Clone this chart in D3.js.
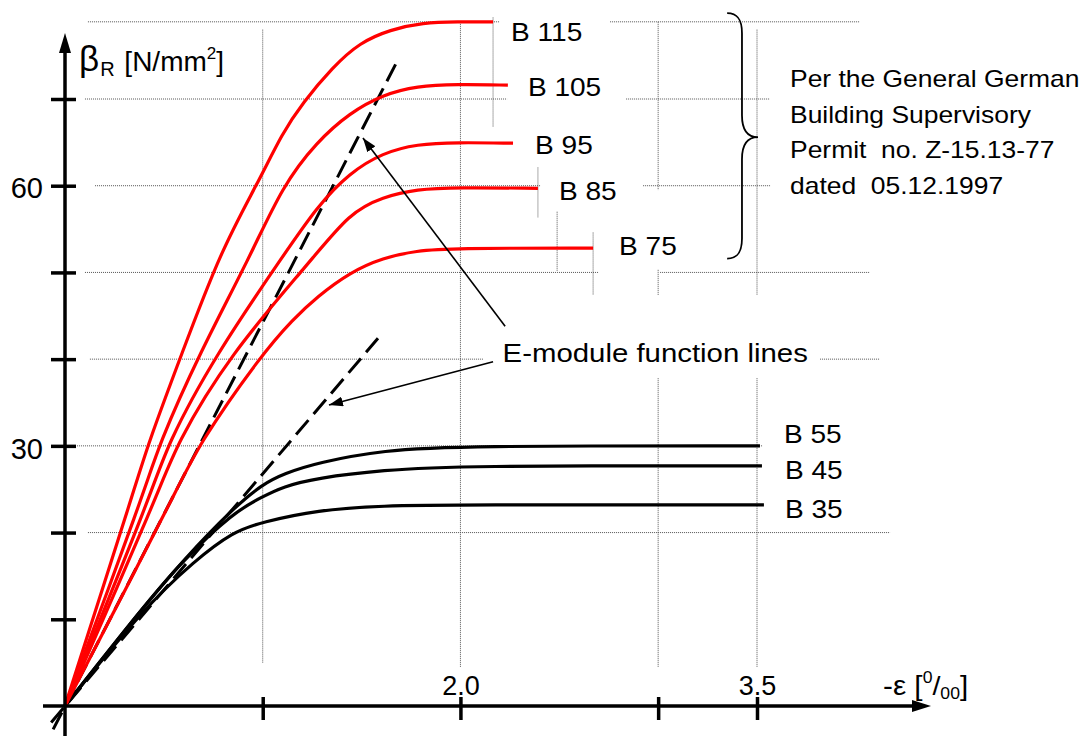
<!DOCTYPE html>
<html lang="en">
<head>
<meta charset="UTF-8">
<title>Concrete stress-strain curves</title>
<script src="https://d3js.org/d3.v7.min.js"></script>
<style>
  body { margin: 0; background: #fff; }
  svg { display: block; font-family: "Liberation Sans", Arial, sans-serif; }
  text { white-space: pre; fill: #000; }
</style>
</head>
<body>
<div id="chart"></div>
<script>
// strain -eps in per mille, stress beta_R in N/mm2
const highGrades = ["B 115", "B 105", "B 95", "B 85", "B 75"];
const normalGrades = ["B 55", "B 45", "B 35"];

const b115 = [[0,0],[0.35,24.9],[0.415,29.9],[0.59,40.6],[0.79,52.6],[0.975,60.3],[1.10,66.1],[1.20,69.5],[1.355,73.7],[1.49,76.5],[1.645,78.0],[1.81,78.8],[1.985,78.9],[2.165,78.9]];
const b105 = [[0,0],[0.405,24.9],[0.47,29.9],[0.683,40.8],[0.936,51.8],[1.10,60.0],[1.275,65.1],[1.44,68.4],[1.608,70.5],[1.78,71.5],[1.98,71.7],[2.24,71.6]];
const b95  = [[0,0],[0.445,24.9],[0.511,29.9],[0.764,40.6],[1.10,51.8],[1.275,57.6],[1.44,61.5],[1.608,63.8],[1.78,64.8],[1.98,65.0],[2.266,64.9]];
const b85  = [[0,0],[0.48,24.9],[0.556,29.9],[0.835,40.6],[1.239,51.2],[1.44,56.9],[1.608,58.7],[1.78,59.6],[1.98,59.8],[2.392,59.7]];
const b75  = [[0,0],[0.567,24.9],[0.668,29.9],[0.996,40.6],[1.153,44.6],[1.275,47.2],[1.44,50.0],[1.608,51.7],[1.78,52.5],[1.948,52.8],[2.671,52.8]];

const b55 = [[0,0],[0.395,11.4],[0.597,16.8],[0.85,22.8],[1.0,25.6],[1.107,26.8],[1.28,28.1],[1.614,29.5],[1.988,30.0],[3.515,30.0]];
const b45 = [[0,0],[0.395,11.4],[0.597,16.8],[0.85,22.3],[0.996,24.1],[1.102,25.3],[1.275,26.3],[1.608,27.2],[1.983,27.7],[3.525,27.7]];
const b35 = [[0,0],[0.395,11.2],[0.658,16.8],[0.85,20.1],[0.996,21.2],[1.275,22.6],[1.608,23.1],[1.983,23.2],[3.535,23.2]];

// E-module function lines (dashed)
const eModHigh = [[-0.06,-2.7],[1.679,74.3]];
const eModNormal = [[-0.07,-1.9],[1.583,42.4]];

const yTicks = [10, 20, 30, 40, 50, 60, 70];
const yTickLabels = [30, 60];
const xTicks = [1, 2, 3, 3.5];
const xTickLabels = ["", "2.0", "", "3.5"];

// dotted helper lines: [stress, strainFrom, strainTo] / [strain, stressFrom, stressTo]
const hGrid = [[78.9,0.116,2.20],[78.9,2.757,4.02],[70,0.101,2.236],[70,2.838,3.566],[60,0.152,2.403],[60,2.924,3.566],
               [50,0.101,2.701],[50,3.01,4.072],[40,0.126,2.114],[40,3.819,4.122],[30,0.061,3.526],[20,0.116,4.173]];
const vGrid = [[1.0,78.0,5.0],[2.0,78.9,4.5],[2.165,79.4,66.8],[2.392,62.1,56.3],[2.489,57.0,50.1],[2.671,54.6,47.4],
               [3.0,78.9,59.5],[3.0,50.3,47.4],[3.0,37.8,4.5],[3.5,78.0,47.4],[3.5,37.8,4.5]];

const permitLines = ["Per the General German", "Building Supervisory", "Permit  no. Z-15.13-77", "dated  05.12.1997"];
const eModLabel = "E-module function lines";

const W = 1086, H = 736;
const svg = d3.select("#chart").append("svg").attr("width", W).attr("height", H);
svg.append("rect").attr("width", W).attr("height", H).attr("fill", "#fff");

const x = d3.scaleLinear().domain([0, 3.5]).range([65, 757]);
const y = d3.scaleLinear().domain([0, 70]).range([706, 99]);

// grid
svg.append("g").selectAll("line").data(hGrid).join("line")
  .attr("x1", d => x(d[1])).attr("x2", d => x(d[2]))
  .attr("y1", d => y(d[0])).attr("y2", d => y(d[0]))
  .attr("stroke", "#555").attr("stroke-width", 1).attr("stroke-dasharray", "1,1");
svg.append("g").selectAll("line").data(vGrid).join("line")
  .attr("x1", d => x(d[0])).attr("x2", d => x(d[0]))
  .attr("y1", d => y(d[1])).attr("y2", d => y(d[2]))
  .attr("stroke", "#555").attr("stroke-width", 1).attr("stroke-dasharray", "1,1");

const line = d3.line().x(d => x(d[0])).y(d => y(d[1])).curve(d3.curveBasis);
const straight = d3.line().x(d => x(d[0])).y(d => y(d[1]));

// dashed E-module lines
svg.append("g").selectAll("path").data([eModHigh, eModNormal]).join("path")
  .attr("d", straight).attr("fill", "none").attr("stroke", "#000")
  .attr("stroke-width", 3).attr("stroke-dasharray", "19,8");

const highSeries = [b115, b105, b95, b85, b75];
const normalSeries = [b55, b45, b35];

svg.append("g").selectAll("path").data(normalSeries).join("path")
  .attr("d", line).attr("fill", "none").attr("stroke", "#000").attr("stroke-width", 3.2);
svg.append("g").selectAll("path").data(highSeries).join("path")
  .attr("d", line).attr("fill", "none").attr("stroke", "#ff0000").attr("stroke-width", 3.2);

// axes
const yAxis = svg.append("g").attr("transform", `translate(${x(0)},0)`)
  .call(d3.axisLeft(y).tickValues(yTicks).tickSize(14).tickPadding(8)
    .tickFormat(d => yTickLabels.includes(d) ? d : ""));
yAxis.select(".domain").remove();
yAxis.selectAll(".tick line").attr("x1", 11).attr("stroke", "#000").attr("stroke-width", 3.5);
yAxis.selectAll(".tick text").attr("font-size", 29).attr("font-family", null).attr("dy", "0.42em").attr("fill", "#000");

const xAxis = svg.append("g").attr("transform", `translate(0,${y(0)})`)
  .call(d3.axisTop(x).tickValues(xTicks).tickSize(9).tickPadding(2)
    .tickFormat((d, i) => xTickLabels[i]));
xAxis.select(".domain").remove();
xAxis.selectAll(".tick line").attr("y1", 14).attr("stroke", "#000").attr("stroke-width", 3.5);
xAxis.selectAll(".tick text").attr("font-size", 27).attr("font-family", null).attr("fill", "#000");

// axis lines with arrow heads
const x0 = x(0), y0 = y(0);
svg.append("line").attr("x1", x0).attr("x2", x0).attr("y1", H).attr("y2", 48)
  .attr("stroke", "#000").attr("stroke-width", 3.5);
svg.append("path").attr("d", `M${x0},33 L${x0 - 6},53 L${x0 + 6},53 Z`).attr("fill", "#000");
svg.append("line").attr("x1", 43).attr("x2", 916).attr("y1", y0).attr("y2", y0)
  .attr("stroke", "#000").attr("stroke-width", 3.5);
svg.append("path").attr("d", `M931,${y0} L912,${y0 - 6} L912,${y0 + 6} Z`).attr("fill", "#000");

// axis titles
const yt = svg.append("text").attr("x", 79).attr("y", 71);
yt.append("tspan").attr("font-size", 35).text("β");
yt.append("tspan").attr("font-size", 20).attr("dy", 5).attr("dx", 1).text("R");
yt.append("tspan").attr("font-size", 28).attr("dy", -5).attr("dx", 2).text(" [N/mm");
yt.append("tspan").attr("font-size", 17).attr("dy", -12).text("2");
yt.append("tspan").attr("font-size", 28).attr("dy", 12).text("]");

const xt = svg.append("text").attr("transform", "translate(883,695) scale(1.1,1)");
xt.append("tspan").attr("font-size", 27).text("-ε [");
xt.append("tspan").attr("font-size", 16).attr("dy", -12).text("0");
xt.append("tspan").attr("font-size", 26).attr("dy", 12).text("/");
xt.append("tspan").attr("font-size", 16).attr("dy", 4).text("00");
xt.append("tspan").attr("font-size", 27).attr("dy", -4).text("]");

// curve labels
const allSeries = highSeries.concat(normalSeries);
const allNames = highGrades.concat(normalGrades);
const labelDx = [18, 20, 22, 21, 26, 24, 23, 21];
const labelDy = [19, 11, 11, 12, 7, -3, 13, 13];
svg.append("g").selectAll("text").data(allSeries).join("text")
  .attr("transform", (d, i) => {
    const last = d[d.length - 1];
    return `translate(${x(last[0]) + labelDx[i]},${y(last[1]) + labelDy[i]}) scale(1.08,1)`;
  })
  .attr("font-size", 26)
  .text((d, i) => allNames[i]);

// arrows pointing at the E-module lines
const arrows = [
  { from: [2.226, 43.8], to: [1.507, 65.5] },
  { from: [2.165, 39.7], to: [1.335, 34.7] }
];
svg.append("defs").append("marker")
  .attr("id", "head").attr("markerUnits", "userSpaceOnUse")
  .attr("viewBox", "0 0 14 10").attr("refX", 14).attr("refY", 5)
  .attr("markerWidth", 14).attr("markerHeight", 10).attr("orient", "auto")
  .append("path").attr("d", "M0,0 L14,5 L0,10 Z").attr("fill", "#000");
svg.append("g").selectAll("line").data(arrows).join("line")
  .attr("x1", d => x(d.from[0])).attr("y1", d => y(d.from[1]))
  .attr("x2", d => x(d.to[0])).attr("y2", d => y(d.to[1]))
  .attr("stroke", "#000").attr("stroke-width", 1.6).attr("marker-end", "url(#head)");

svg.append("text").attr("transform", `translate(${x(2.213)},${y(39.7)}) scale(1.13,1)`)
  .attr("font-size", 26).text(eModLabel);

// curly brace around the high-strength grades
const bx = x(3.349), sx = x(3.424), tx = x(3.505);
const bt = y(79.9), bb = y(51.6), bm = y(65.6);
svg.append("path")
  .attr("d", `M${bx},${bt} C${bx + 11},${bt} ${sx},${bt + 7} ${sx},${bt + 20} L${sx},${bm - 22}
    C${sx},${bm - 7} ${sx + 6},${bm} ${tx},${bm} C${sx + 6},${bm} ${sx},${bm + 7} ${sx},${bm + 22}
    L${sx},${bb - 20} C${sx},${bb - 7} ${bx + 11},${bb} ${bx},${bb}`)
  .attr("fill", "none").attr("stroke", "#000").attr("stroke-width", 1.8);

svg.append("g").selectAll("text").data(permitLines).join("text")
  .attr("transform", (d, i) => `translate(790,${87 + i * 35.6}) scale(1.15,1)`)
  .attr("font-size", 23).text(d => d);
</script>
</body>
</html>
